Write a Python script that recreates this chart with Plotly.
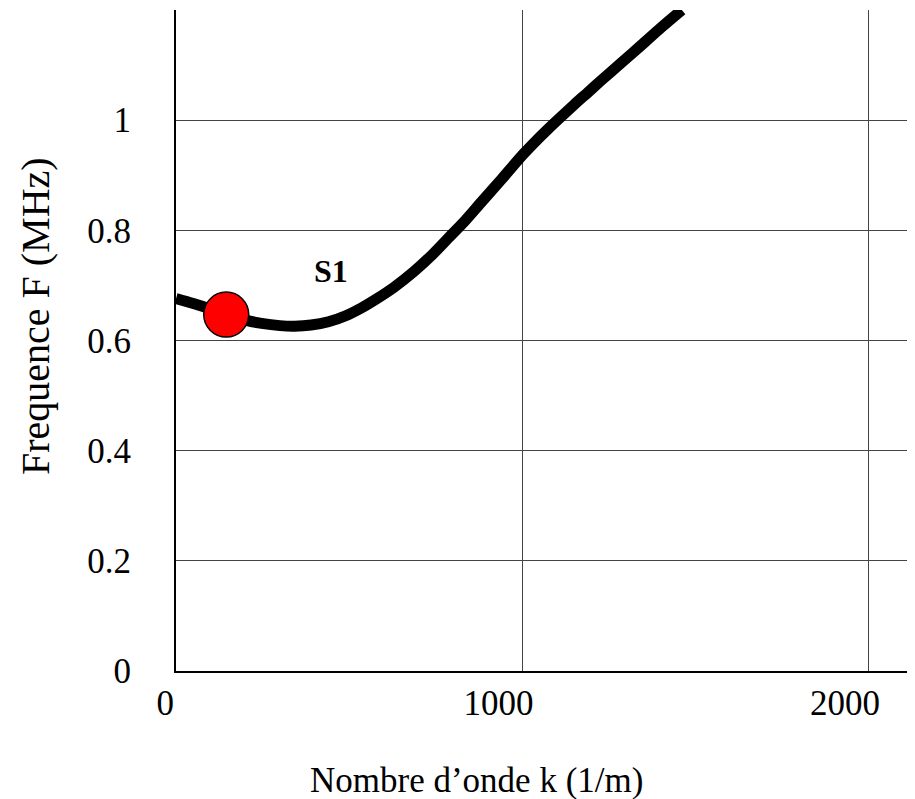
import plotly.graph_objects as go

# Data
k_vals = [0, 50, 100, 145, 200, 247, 300, 342, 390, 440, 490, 535, 580, 630, 688, 740,
          786, 835, 881, 940, 1002, 1040, 1074, 1106, 1149, 1190, 1227, 1285, 1343, 1400, 1460]
f_vals = [0.676, 0.667, 0.657, 0.647, 0.637, 0.631, 0.627, 0.626, 0.628, 0.634, 0.645,
          0.659, 0.676, 0.697, 0.726, 0.756, 0.786, 0.818, 0.851, 0.893, 0.938, 0.963,
          0.984, 1.003, 1.028, 1.051, 1.072, 1.104, 1.136, 1.168, 1.200]

point_k = [145]
point_f = [0.647]

label_text = "S1"
label_k = 447
label_f = 0.727

x_ticks = [0, 1000, 2000]
x_ticktext = ["\u00a0\u00a0\u00a00", "1000", "2000"]
y_ticks = [0, 0.2, 0.4, 0.6, 0.8, 1]
y_ticktext = ["0", "0.2", "0.4", "0.6", "0.8", "1"]

FONT = "Liberation Serif"

fig = go.Figure()
fig.add_trace(go.Scatter(
    x=k_vals, y=f_vals, mode="lines",
    line=dict(color="black", width=11, shape="spline", smoothing=0.8),
    showlegend=False, hoverinfo="skip",
))
fig.add_trace(go.Scatter(
    x=point_k, y=point_f, mode="markers",
    marker=dict(color="red", size=45, line=dict(color="black", width=1.5)),
    showlegend=False, cliponaxis=False,
))

fig.add_annotation(x=label_k, y=label_f, text="<b>%s</b>" % label_text, showarrow=False,
                   font=dict(family=FONT, size=32, color="black"))

fig.add_annotation(xref="paper", yref="paper", x=0.406, y=-0.166,
                   text="Nombre d’onde k (1/m)", showarrow=False,
                   font=dict(family=FONT, size=35, color="black"),
                   xanchor="center", yanchor="middle")
fig.add_annotation(xref="paper", yref="paper", x=0, xshift=-141, y=0.537,
                   text="Frequence F (MHz)", showarrow=False, textangle=-90,
                   font=dict(family=FONT, size=40, color="black"),
                   xanchor="center", yanchor="middle")

# page body has an 8px margin, so the figure is sized/offset to compensate
fig.update_layout(
    width=907, height=791,
    margin=dict(l=168, r=0, t=2, b=128, autoexpand=False),
    paper_bgcolor="white", plot_bgcolor="white",
    font=dict(family=FONT, size=34, color="black"),
)
fig.update_xaxes(
    range=[0, 2133], tickvals=x_ticks, ticktext=x_ticktext,
    showgrid=True, gridcolor="#444444", gridwidth=1,
    showline=True, linecolor="black", linewidth=2,
    zeroline=False, ticks="", ticklabelshift=-24, ticklabelstandoff=0,
    tickfont=dict(family=FONT, size=35, color="black"), automargin=False,
)
fig.update_yaxes(
    range=[0, 1.2], tickvals=y_ticks, ticktext=y_ticktext,
    showgrid=True, gridcolor="#444444", gridwidth=1,
    showline=True, linecolor="black", linewidth=2,
    zeroline=False, ticks="", ticklabelstandoff=36,
    tickfont=dict(family=FONT, size=35, color="black"), automargin=False,
)

fig.write_html("out.html")
